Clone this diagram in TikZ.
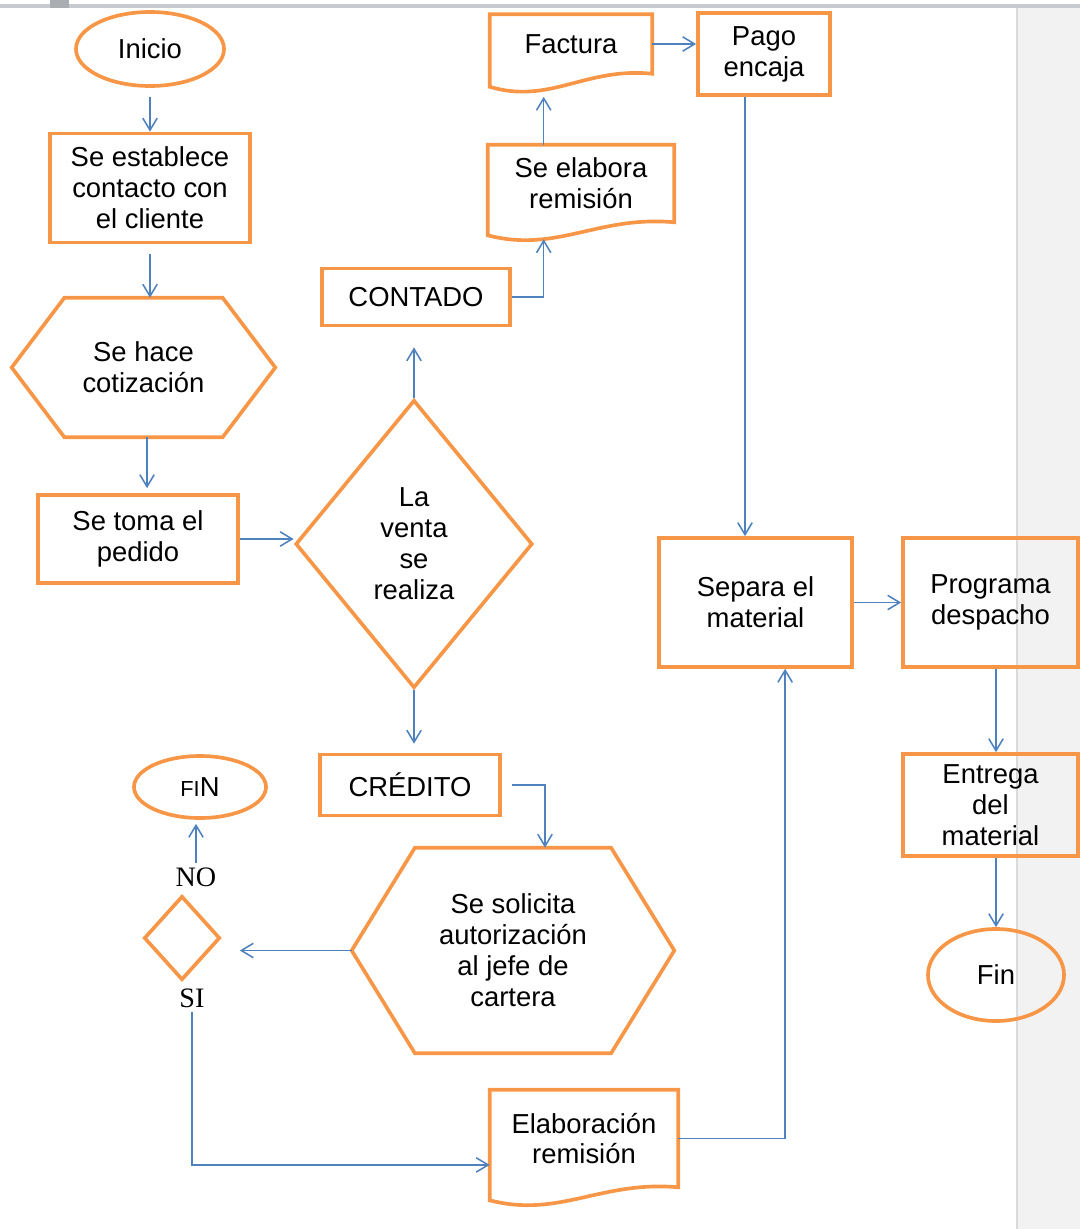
\documentclass[tikz,border=0pt]{standalone}
\usepackage{fontspec}
\setmainfont{Liberation Sans}
\newfontfamily\timesfont{Liberation Serif}
\usepackage{tikz}
\usetikzlibrary{calc}
\usetikzlibrary{arrows.meta}
\usetikzlibrary{shapes.geometric}
\definecolor{naranja}{RGB}{247,150,70}
\definecolor{azul}{RGB}{79,129,189}
\definecolor{barra}{RGB}{200,204,210}
\definecolor{fondo}{RGB}{242,242,242}
\definecolor{filo}{RGB}{218,218,218}
\newcommand{\hexa}[2]{\draw[borde] (#1.west) -- ($(#1.north west)!#2!(#1.north east)$) -- ($(#1.north east)!#2!(#1.north west)$) -- (#1.east) -- ($(#1.south east)!#2!(#1.south west)$) -- ($(#1.south west)!#2!(#1.south east)$) -- cycle;}
\newcommand{\docu}[1]{\draw[borde] (#1.north west) -- (#1.north east) -- (#1.south east) .. controls ($(#1.south west)!0.59!(#1.south east)+(0,-7)$) and ($(#1.south west)!0.37!(#1.south east)+(0,31)$) .. ($(#1.south west)+(0,13)$) -- cycle;}
\tikzset{B/.style={rectangle,draw=naranja,line width=2.6pt,inner sep=0pt,align=center},
 E/.style={ellipse,draw=naranja,line width=2.6pt,inner sep=0pt},
 D/.style={diamond,draw=naranja,line width=2.6pt,inner sep=0pt,align=center},
 H/.style={rectangle,inner sep=0pt,align=center},
 P/.style={rectangle,inner sep=0pt,align=center},
 borde/.style={draw=naranja,line width=2.6pt},
 flecha/.style={draw=azul,line width=1.1pt,-{Straight Barb[length=3mm,width=3.6mm]}},
 rotulo/.style={font=\timesfont\fontsize{20}{22}\selectfont}}

\begin{document}
\begin{tikzpicture}[x=0.025cm,y=-0.025cm,font=\fontsize{19.5}{22}\selectfont]
\useasboundingbox (0,0) rectangle (1080,1229);

% fondo de la captura
\fill[fondo] (1017,8) rectangle (1080,1229);
\draw[filo,line width=1pt] (1017,8) -- (1017,1229);
\fill[barra] (0,4) rectangle (1080,8);
\fill[barra!85!black] (50,0) rectangle (69,8);

\node[E,minimum width=3.7cm,minimum height=1.85cm] (inicio) at (150,49) {Inicio};
\node[B,minimum width=5cm,minimum height=2.725cm] (contacto) at (150,188) {Se establece\\contacto con\\el cliente};
\node[H,minimum width=6.575cm,minimum height=3.475cm] (cotiza) at (143.5,367.5) {Se hace\\cotización};
\node[B,minimum width=5cm,minimum height=2.2cm] (pedido) at (138,539) {Se toma el\\pedido};
\node[D,minimum width=5.925cm,minimum height=7.2cm] (venta) at (414,544) {La\\venta\\se\\realiza};
\node[B,minimum width=4.7cm,minimum height=1.425cm] (contado) at (416,297) {CONTADO};
\node[P,minimum width=4.65cm,minimum height=1.925cm] (remi) at (581,183.5) {Se elabora\\remisión};
\node[P,minimum width=4.05cm,minimum height=1.475cm] (factura) at (571,44) {Factura};
\node[B,minimum width=3.3cm,minimum height=2.05cm] (pago) at (764,54) {Pago\\encaja};
\node[B,minimum width=4.825cm,minimum height=3.225cm] (separa) at (755.5,602.5) {Separa el\\material};
\node[B,minimum width=4.375cm,minimum height=3.225cm] (programa) at (990.5,602.5) {Programa\\despacho};
\node[B,minimum width=4.375cm,minimum height=2.55cm] (entrega) at (990.5,805) {Entrega\\del\\material};
\node[E,minimum width=3.4cm,minimum height=2.3cm] (fin) at (996,975) {Fin};
\node[B,minimum width=4.5cm,minimum height=1.525cm] (credito) at (410,785) {CRÉDITO};
\node[H,minimum width=8.05cm,minimum height=5.125cm] (solicita) at (513,950.5) {Se solicita\\autorización\\al jefe de\\cartera};
\node[D,minimum width=1.9cm,minimum height=2.1cm] (aprueba) at (182,938) {};
\node[E,minimum width=3.3cm,minimum height=1.55cm] (finno) at (200,787) {{\fontsize{15.5}{15}\selectfont FI}N};
\node[rotulo] (no) at (196,877) {NO};
\node[rotulo] (si) at (192,998) {SI};
\node[P,minimum width=4.7cm,minimum height=2.425cm] (elabora) at (584,1138.5) {Elaboración\\remisión};

\hexa{cotiza}{0.2}
\hexa{solicita}{0.196}
\docu{remi}
\docu{factura}
\docu{elabora}

% conectores
\draw[flecha,shorten <=0.225cm] (inicio.south) -- (inicio.south |- contacto.north);
\draw[flecha,shorten <=0.25cm] (contacto.south) -- (contacto.south |- cotiza.north);
\coordinate (cotizaB) at ([xshift=0.0875cm]cotiza.south);
\draw[flecha,shorten >=0.125cm] (cotizaB) -- (cotizaB |- pedido.north);
\draw[flecha] (pedido.east) -- (pedido.east -| venta.west);
\draw[flecha,shorten >=0.5cm] (venta.north) -- (venta.north |- contado.south);
\coordinate (remiB) at ($(remi.south west)!0.3!(remi.south east)+(0,17)$);
\draw[flecha] (contado.east) -| (remiB);
\draw[flecha,shorten >=0.575cm] (remiB |- remi.north) -- (remiB |- factura.south);
\draw[flecha] (factura.east) -- (factura.east -| pago.west);
\coordinate (pagoB) at ([xshift=-0.475cm]pago.south);
\draw[flecha] (pagoB) -- (pagoB |- separa.north);
\draw[flecha] (separa.east) -- (programa.west);
\draw[flecha] (programa.south -| fin) -- (entrega.north -| fin);
\draw[flecha] (entrega.south -| fin) -- (fin.north);
\draw[flecha,shorten >=0.225cm] (venta.south) -- (venta.south |- credito.north);
\coordinate (solicT) at ([xshift=0.8cm]solicita.north);
\draw[flecha,shorten <=0.25cm] (credito.east) -| (solicT);
\draw[flecha,shorten >=0.45cm] (solicita.west) -- (solicita.west -| aprueba.east);
\draw[flecha,shorten >=0.1cm] (no.north) -- (no.north |- finno.south);
\coordinate (elabI) at ([yshift=-0.66cm]elabora.west);
\draw[flecha] (si.south) |- (elabI);
\coordinate (sepB) at ([xshift=0.74cm]separa.south);
\draw[flecha] (elabora.east) -| (sepB);

\end{tikzpicture}
\end{document}
